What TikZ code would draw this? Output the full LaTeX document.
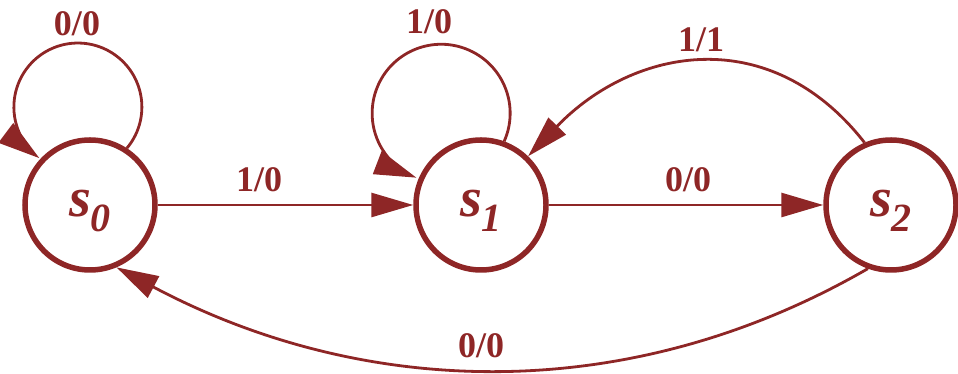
\documentclass[tikz,border=0pt]{standalone}
\usepackage{fontspec}
\setmainfont{Liberation Serif}
\usetikzlibrary{arrows.meta}
\definecolor{fsm}{RGB}{142,38,38}
\newcommand\stlabel[2]{\raisebox{-12pt}[0pt][0pt]{#1\raisebox{-15pt}{\fontsize{40}{42}\selectfont #2}}}
\begin{document}
\begin{tikzpicture}[x=1pt,y=1pt,
  state/.style={circle,draw=fsm,line width=5.5pt,minimum size=130pt,inner sep=0pt,text=fsm,font=\fontsize{56}{60}\selectfont\bfseries\itshape},
  trans/.style={draw=fsm,line width=2.8pt,-{Triangle[length=42pt,width=24pt]}},
  lbl/.style={text=fsm,font=\fontsize{36}{40}\selectfont\bfseries,inner sep=0pt}]
\useasboundingbox (0,0) rectangle (958,374);
\node[state] (s0) at (90,169) {\stlabel{s}{0}};
\node[state] (s1) at (481,169) {\stlabel{s}{1}};
\node[state] (s2) at (891,169) {\stlabel{s}{2}};
\draw[trans] (s0) -- (s1);
\draw[trans] (s1) -- (s2);
\draw[trans] (s0.57) arc[start angle=-40,end angle=233,radius=64];
\draw[trans] (s1.70) arc[start angle=-24,end angle=249,radius=69];
\draw[trans] (s2.113) to[out=128,in=46,looseness=1.16] (s1.46);
\draw[trans] (s2.250) to[out=210,in=-28,looseness=0.95] (s0.293);
\node[lbl] (l00a) at (77,350) {0/0};
\node[lbl] (l10a) at (429,352) {1/0};
\node[lbl] (l10b) at (259,194) {1/0};
\node[lbl] (l00b) at (688,194) {0/0};
\node[lbl] (l11) at (701,334) {1/1};
\node[lbl] (l00c) at (481,28) {0/0};
\end{tikzpicture}
\end{document}
